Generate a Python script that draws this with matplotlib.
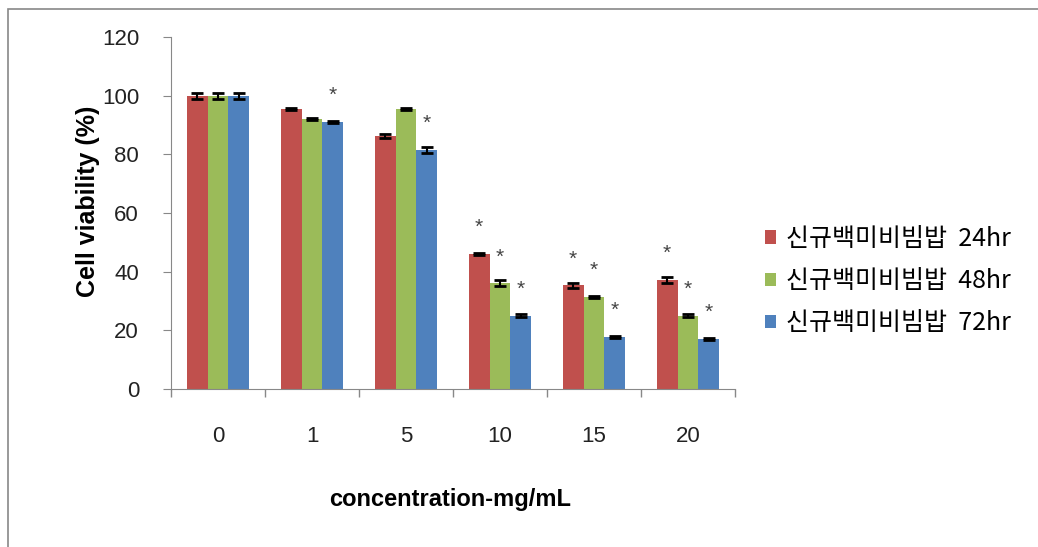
import numpy as np
import matplotlib
matplotlib.use("Agg")
import matplotlib.pyplot as plt
from matplotlib.patches import Rectangle

plt.rcParams['font.family'] = ['Liberation Sans', 'Noto Sans CJK KR', 'DejaVu Sans']

# data
concentrations = ['0', '1', '5', '10', '15', '20']
series_names = ['신규백미비빔밥  24hr', '신규백미비빔밥  48hr', '신규백미비빔밥  72hr']
viab_24 = [100, 95.4, 86.2, 46, 35.3, 37.2]
viab_48 = [100, 92.0, 95.4, 36, 31.4, 25.0]
viab_72 = [100, 91.0, 81.6, 25, 17.8, 17.0]
err_24 = [1.0, 0.4, 0.8, 0.4, 1.0, 1.0]
err_48 = [1.0, 0.4, 0.4, 1.0, 0.4, 0.4]
err_72 = [1.0, 0.4, 1.0, 0.4, 0.4, 0.4]
star_24 = [0, 0, 0, 1, 1, 1]
star_48 = [0, 0, 0, 1, 1, 1]
star_72 = [0, 1, 1, 1, 1, 1]

colors = ['#C0504D', '#9BBB59', '#4F81BD']
values = [viab_24, viab_48, viab_72]
errors = [err_24, err_48, err_72]
stars = [star_24, star_48, star_72]

fig = plt.figure(figsize=(10.38, 5.47), dpi=100)
ax = fig.add_axes([171/1038, 1-389/547, (735-171)/1038, (389-37)/547])

# frame around the chart (only top/left visible in the source)
fig.patches.append(Rectangle((8/1038, -0.1), 1.2, 1-9/547+0.1, transform=fig.transFigure,
                             fill=False, edgecolor='#888888', linewidth=1.2))

x = np.arange(len(concentrations))
w = 1/4.5
for i in range(3):
    pos = x + (i-1)*w
    ax.bar(pos, values[i], w, color=colors[i], label=series_names[i], zorder=2)
    ax.errorbar(pos, values[i], yerr=errors[i], fmt='none', ecolor='black',
                elinewidth=1.5, capsize=4, capthick=2, zorder=3)
    for p, v, s in zip(pos, values[i], stars[i]):
        if s:
            ax.text(p, v + 9, '*', ha='center', va='center', fontsize=15, color='#444444')

ax.set_xlim(-0.5, len(concentrations)-0.5)
ax.set_ylim(0, 120)
ax.set_yticks(np.arange(0, 121, 20))
ax.set_xticks(x)
ax.set_xticklabels(concentrations)
ax.set_xticks(np.arange(-0.5, len(concentrations), 1), minor=True)
ax.tick_params(axis='x', which='major', length=0, pad=27, labelsize=16, labelcolor='#222222')
ax.tick_params(axis='x', which='minor', length=6, color='#888888', width=1)
ax.tick_params(axis='y', length=6, color='#888888', labelsize=16, pad=17, labelcolor='#222222')
for s in ['top', 'right']:
    ax.spines[s].set_visible(False)
for s in ['left', 'bottom']:
    ax.spines[s].set_color('#888888')

ax.set_ylabel('Cell viability (%)', fontsize=18, fontweight='bold')
ax.yaxis.set_label_coords(-0.126, 0.534)
ax.set_xlabel('concentration-mg/mL', fontsize=17, fontweight='bold')
ax.xaxis.set_label_coords(0.495, -0.282)
ax.xaxis.label.set_verticalalignment('top')

leg = ax.legend(loc='upper left', bbox_to_anchor=(765/1038, 1-226/547), bbox_transform=fig.transFigure,
                frameon=False, handlelength=0.45, handleheight=0.45, handletextpad=0.4,
                labelspacing=0.65, borderaxespad=0, borderpad=0,
                prop={'family': ['Noto Sans CJK KR', 'Liberation Sans'], 'size': 18})

fig.savefig('out.png', dpi=100, facecolor='white')
